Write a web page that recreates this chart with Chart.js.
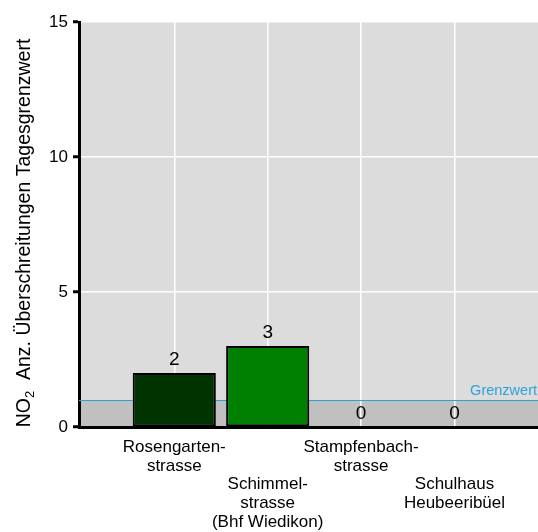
<!DOCTYPE html>
<html>
<head>
<meta charset="utf-8">
<script src="https://cdn.jsdelivr.net/npm/chart.js@4/dist/chart.umd.min.js"></script>
<style>
  html, body { margin: 0; padding: 0; background: #fff; }
  #wrap { width: 538px; height: 532px; }
</style>
</head>
<body>
<div id="wrap"><canvas id="no2-chart"></canvas></div>
<script>
// stations, their position on the x axis and exceedance counts
const stations = [
  ['Rosengarten-', 'strasse'],
  ['', '', 'Schimmel-', 'strasse', '(Bhf Wiedikon)'],
  ['Stampfenbach-', 'strasse'],
  ['', '', 'Schulhaus', 'Heubeeribüel']
];
const positions = [1, 2, 3, 4];
const exceedances = [2, 3, 0, 0];
const barColors = ['#003300', '#008000', '#008000', '#008000'];
const yTicks = [0, 5, 10, 15];
const limitValue = 1;
const limitLabel = 'Grenzwert';

const FONT = 'Arial, "Liberation Sans", Helvetica, sans-serif';

// gray plot background with darker band below the limit
const backdrop = {
  id: 'backdrop',
  beforeDraw(chart) {
    const { ctx, chartArea: a, scales: { y } } = chart;
    const yl = y.getPixelForValue(limitValue);
    ctx.save();
    ctx.fillStyle = '#dcdcdc';
    ctx.fillRect(a.left, a.top, a.right - a.left, a.bottom - a.top);
    ctx.fillStyle = '#c0c0c0';
    ctx.fillRect(a.left, yl, a.right - a.left, a.bottom - yl);
    ctx.restore();
  },
  beforeDatasetsDraw(chart) {
    const { ctx, chartArea: a, scales: { y } } = chart;
    const yl = Math.round(y.getPixelForValue(limitValue)) + 0.5;
    ctx.save();
    ctx.strokeStyle = '#2aa3d9';
    ctx.lineWidth = 1;
    ctx.beginPath();
    ctx.moveTo(a.left, yl);
    ctx.lineTo(a.right, yl);
    ctx.stroke();
    ctx.fillStyle = '#2aa3d9';
    ctx.font = '14.5px ' + FONT;
    ctx.textAlign = 'right';
    ctx.textBaseline = 'alphabetic';
    ctx.fillText(limitLabel, a.right - 1, yl - 6);
    ctx.restore();
  }
};

// count above every bar
const valueLabels = {
  id: 'valueLabels',
  afterDatasetsDraw(chart) {
    const { ctx } = chart;
    const meta = chart.getDatasetMeta(0);
    ctx.save();
    ctx.fillStyle = '#000';
    ctx.font = '19px ' + FONT;
    ctx.textAlign = 'center';
    ctx.textBaseline = 'alphabetic';
    meta.data.forEach((bar, i) => {
      ctx.fillText(String(exceedances[i]), bar.x, bar.y - 8);
    });
    ctx.restore();
  }
};

// rotated y title with subscript in NO2
const yTitle = {
  id: 'yTitle',
  afterDraw(chart) {
    const { ctx } = chart;
    const main = '19.5px ' + FONT;
    const sub = '13px ' + FONT;
    const parts = [['NO', main, 0], ['2', sub, 4], ['  Anz. Überschreitungen Tagesgrenzwert', main, 0]];
    ctx.save();
    let total = 0;
    parts.forEach(p => { ctx.font = p[1]; total += ctx.measureText(p[0]).width; });
    ctx.translate(30, 233);
    ctx.rotate(-Math.PI / 2);
    ctx.fillStyle = '#000';
    ctx.textBaseline = 'alphabetic';
    let x = -total / 2;
    parts.forEach(p => {
      ctx.font = p[1];
      ctx.fillText(p[0], x, p[2]);
      x += ctx.measureText(p[0]).width;
    });
    ctx.restore();
  }
};

new Chart(document.getElementById('no2-chart'), {
  type: 'bar',
  data: {
    datasets: [{
      data: positions.map((p, i) => ({ x: p, y: exceedances[i] })),
      backgroundColor: barColors,
      borderColor: '#000',
      borderWidth: 2,
      borderSkipped: false,
      barPercentage: 0.89,
      categoryPercentage: 1
    }]
  },
  plugins: [backdrop, valueLabels, yTitle],
  options: {
    responsive: true,
    maintainAspectRatio: false,
    animation: false,
    layout: { padding: { top: 22, right: 0, left: 0, bottom: 0 } },
    plugins: {
      legend: { display: false },
      tooltip: { enabled: false }
    },
    scales: {
      x: {
        type: 'linear',
        min: -0.02,
        max: 4.894,
        offset: false,
        afterBuildTicks(scale) {
          scale.ticks = positions.map(v => ({ value: v }));
        },
        afterFit(scale) { scale.height = 105; },
        grid: {
          offset: false,
          color: '#ffffff',
          lineWidth: 1.5,
          drawTicks: false
        },
        border: { color: '#000', width: 3 },
        ticks: {
          maxRotation: 0,
          autoSkip: false,
          padding: 11,
          color: '#000',
          font: { family: FONT, size: 17, lineHeight: 1.1 },
          callback: (v) => stations[positions.indexOf(v)]
        }
      },
      y: {
        min: 0,
        max: 15,
        afterBuildTicks(scale) {
          scale.ticks = yTicks.map(v => ({ value: v }));
        },
        afterFit(scale) { scale.width = 79; },
        grid: {
          color: '#ffffff',
          lineWidth: 1.5,
          tickColor: '#000',
          tickLength: 6,
          tickWidth: 3
        },
        border: { color: '#000', width: 3 },
        ticks: {
          padding: 5,
          color: '#000',
          font: { family: FONT, size: 17 }
        }
      }
    }
  }
});
</script>
</body>
</html>
